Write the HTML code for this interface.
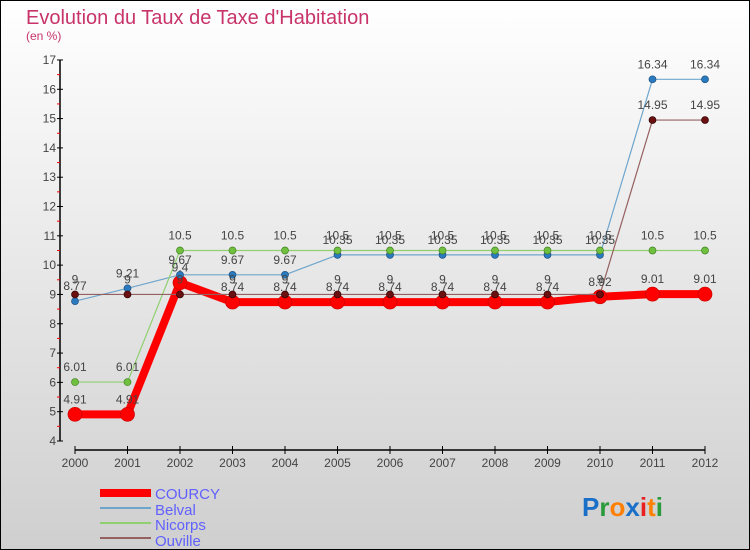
<!DOCTYPE html>
<html><head><meta charset="utf-8"><style>
body{margin:0}
#c{width:750px;height:550px;position:relative;overflow:hidden}
text{font-family:"Liberation Sans",sans-serif}
</style></head><body>
<div id="c">
<svg id="s" width="750" height="550" xmlns="http://www.w3.org/2000/svg">
<defs><linearGradient id="bg" x1="0" y1="0" x2="0" y2="1"><stop offset="0" stop-color="#ffffff"/><stop offset="1" stop-color="#cfcfcf"/></linearGradient></defs>
<rect x="0.5" y="0.5" width="749" height="549" fill="url(#bg)" stroke="#000"/>
<text x="26" y="24" font-size="20" fill="#c8336a">Evolution du Taux de Taxe d'Habitation</text>
<text x="26" y="40" font-size="12" fill="#c8336a">(en %)</text>
<g id="axes"></g><g id="series"></g><g id="labels"></g>
<g>
<rect x="100" y="489" width="51" height="8" fill="#ff0000"/>
<text x="155" y="499" font-size="15" fill="#6060ff">COURCY</text>
<line x1="100" y1="508" x2="151" y2="508" stroke="#6fa5cc" stroke-width="2"/>
<text x="155" y="515" font-size="15" fill="#6060ff">Belval</text>
<line x1="100" y1="523" x2="151" y2="523" stroke="#90d070" stroke-width="2"/>
<text x="155" y="530" font-size="15" fill="#6060ff">Nicorps</text>
<line x1="100" y1="538" x2="151" y2="538" stroke="#956060" stroke-width="2"/>
<text x="155" y="546" font-size="15" fill="#6060ff">Ouville</text>
</g>
<g font-size="26" font-weight="bold">
<text x="582" y="516"><tspan fill="#1a70c8">P</tspan><tspan fill="#2a9a3a">r</tspan><tspan fill="#ff8000">o</tspan><tspan fill="#1a70c8">x</tspan><tspan fill="#e82020">i</tspan><tspan fill="#ff8000">t</tspan><tspan fill="#2a9a3a">i</tspan></text>
</g>
</svg></div>
<script>
const years=[2000,2001,2002,2003,2004,2005,2006,2007,2008,2009,2010,2011,2012];
const courcy=[4.91,4.91,9.4,8.74,8.74,8.74,8.74,8.74,8.74,8.74,8.92,9.01,9.01];
const belval=[8.77,9.21,9.67,9.67,9.67,10.35,10.35,10.35,10.35,10.35,10.35,16.34,16.34];
const nicorps=[6.01,6.01,10.5,10.5,10.5,10.5,10.5,10.5,10.5,10.5,10.5,10.5,10.5];
const ouville=[9,9,9,9,9,9,9,9,9,9,9,14.95,14.95];
const yTicks=[4,5,6,7,8,9,10,11,12,13,14,15,16,17];
const NS="http://www.w3.org/2000/svg";
const X=i=>75+i*52.5, Y=v=>441-(v-4)*29.31;
function mk(t,a,p){const e=document.createElementNS(NS,t);for(const k in a)e.setAttribute(k,a[k]);p.appendChild(e);return e;}
const ax=document.getElementById('axes');
let e=mk('line',{x1:60,y1:Y(17),x2:60,y2:Y(4),stroke:'#000','stroke-width':1.5},ax);


e=mk('line',{x1:75,y1:450,x2:705,y2:450,stroke:'#000','stroke-width':1.5},ax);


yTicks.forEach((v,i)=>{
 mk('line',{x1:57,y1:Y(v),x2:63,y2:Y(v),stroke:'#000'},ax);
 if(i<yTicks.length-1)mk('line',{x1:57,y1:Y(v+0.5),x2:60,y2:Y(v+0.5),stroke:'#f00'},ax);
 const t=mk('text',{x:56,y:Y(v)+4,'font-size':12,fill:'#444','text-anchor':'end'},ax);t.textContent=v;
 
 
});
years.forEach((y,i)=>{
 mk('line',{x1:X(i),y1:446,x2:X(i),y2:454,stroke:'#000'},ax);
 const t=mk('text',{x:X(i),y:467,'font-size':12,fill:'#444','text-anchor':'middle'},ax);t.textContent=y;
 
 
});
const sg=document.getElementById('series'),lg=document.getElementById('labels');
const defs=[['courcy',courcy,'#ff0000',8,'#ff0000','#cc0000',7],['belval',belval,'#6fa5cc',1.2,'#2a7ac0','#205080',3.5],['nicorps',nicorps,'#90d070',1.2,'#70c040','#408020',3.5],['ouville',ouville,'#956060',1.2,'#6a1010','#300000',3.5]];
defs.forEach(([n,d,c,w,fc,sc,r])=>{
 const g=mk('g',{},sg);
 
 
 const pl=mk('polyline',{points:d.map((v,i)=>X(i)+','+Y(v)).join(' '),fill:'none',stroke:c,'stroke-width':w,'stroke-linejoin':'round'},g);
 
 
 d.forEach((v,i)=>{
  const p=mk('circle',{cx:X(i),cy:Y(v),r:r,fill:fc,stroke:sc,'stroke-width':0.7},g);
  
  
  const t=mk('text',{x:X(i),y:Y(v)-11,'font-size':12,fill:'#444','text-anchor':'middle'},lg);
  t.textContent=String(v);
  
  
 });
});
</script>
</body></html>
